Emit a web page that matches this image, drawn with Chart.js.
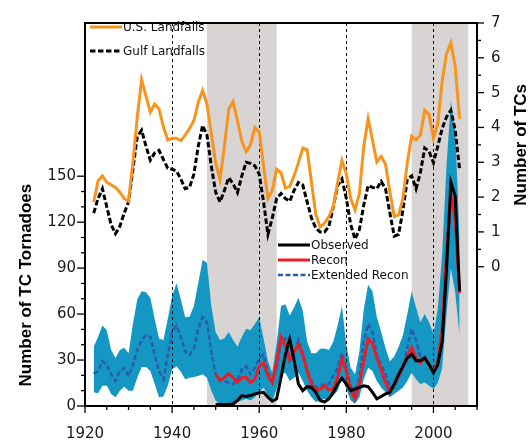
<!DOCTYPE html>
<html><head><meta charset="utf-8">
<script src="https://cdn.jsdelivr.net/npm/chart.js@4"></script>
<style>html,body{margin:0;padding:0;background:#fff}canvas{display:block}</style>
</head><body>
<canvas id="c" width="529" height="441"></canvas>
<script>
// ---- categories ----
const years = [1922,1923,1924,1925,1926,1927,1928,1929,1930,1931,1932,1933,1934,1935,1936,1937,1938,1939,1940,1941,
1942,1943,1944,1945,1946,1947,1948,1949,1950,1951,1952,1953,1954,1955,1956,1957,1958,1959,1960,1961,
1962,1963,1964,1965,1966,1967,1968,1969,1970,1971,1972,1973,1974,1975,1976,1977,1978,1979,1980,1981,
1982,1983,1984,1985,1986,1987,1988,1989,1990,1991,1992,1993,1994,1995,1996,1997,1998,1999,2000,2001,
2002,2003,2004,2005,2006];
const obsStartYear = 1950;

// ---- right axis series (Number of TCs) ----
const usLandfalls = [1.86,2.47,2.61,2.42,2.35,2.28,2.14,1.96,1.88,3.0,4.3,5.37,4.9,4.44,4.67,4.53,4.02,3.64,3.69,3.69,
3.62,3.78,3.97,4.2,4.72,5.06,4.67,3.83,2.99,2.5,3.46,4.53,4.74,4.2,3.6,3.31,3.5,4.0,3.88,2.89,
1.96,2.19,2.8,2.7,2.26,2.3,2.61,2.99,3.41,3.36,2.42,1.49,1.14,1.25,1.44,1.72,2.42,3.05,2.66,1.96,
1.63,2.1,3.46,4.25,3.64,3.01,3.17,2.94,2.14,1.44,1.49,1.96,2.99,3.75,3.64,3.78,4.49,4.37,3.69,4.11,
5.33,6.12,6.43,5.75,4.25];
const gulfLandfalls = [1.54,1.96,2.24,1.72,1.21,0.95,1.16,1.54,1.86,2.8,3.74,3.92,3.46,3.06,3.27,3.34,3.08,2.83,2.8,2.75,
2.52,2.24,2.28,2.66,3.46,4.06,3.78,2.89,2.14,1.86,2.19,2.56,2.38,2.13,2.61,3.0,2.97,2.9,2.66,1.86,
0.93,1.4,1.96,2.1,1.96,1.88,2.19,2.42,2.35,1.86,1.4,1.1,1.0,1.0,1.16,1.72,2.33,2.52,1.96,1.21,
0.79,1.07,1.77,2.33,2.28,2.24,2.45,2.24,1.54,0.88,0.93,1.63,2.52,2.61,2.24,2.7,3.41,3.31,2.99,3.46,
3.97,4.3,4.49,3.92,2.8];

// ---- left axis series (Number of TC Tornadoes) ----
const extendedRecon = [21.1,22.8,29.2,27.0,20.7,16.4,22.8,24.9,19.6,27.0,36.6,43.0,46.2,45.1,33.4,22.8,17.5,33.4,48.3,52.6,
45.1,35.5,33.4,37.7,50.4,57.9,54.7,35.5,20.7,16.4,16.4,15.3,14.3,17.5,23.9,26.0,20.7,24.9,31.3,33.4,
21.7,16.4,24.9,41.9,44.0,29.2,33.4,43.0,34.5,23.9,16.4,12.1,12.1,14.3,14.3,19.6,24.9,34.5,24.9,13.2,
7.9,18.5,41.9,53.6,48.3,33.4,27.0,20.7,12.1,12.1,18.5,24.9,37.7,50.4,43.0,32.3,31.3,27.0,23.9,29.2,
50,99,137,120,74];
const reconUpper = [38.7,45.1,52.6,49.4,36.6,31.3,36.6,38.1,34.5,53.6,69.6,74.9,74.3,70.6,56.8,44.0,43.0,56.8,71.7,80.2,
69.6,57.9,58.3,65.3,80.2,95.5,93.4,65.3,48.3,43.0,44.0,48.3,43.0,38.7,45.1,50.4,49.4,53.6,57.9,44.0,
29.2,21.7,40.9,65.3,66.4,59.0,64.3,70.6,62.1,41.9,34.5,34.5,37.3,37.5,36.6,41.9,52.6,65.3,39.8,24.9,
20.7,35.5,63.2,79.1,74.9,57.9,48.3,37.7,29.2,32.3,38.7,46.2,60.0,74.9,64.3,54.7,60.0,54.7,47.2,63.2,
99,157,199,180,110];
const reconLower = [8.9,8.3,13.2,13.2,7.9,5.7,10.0,12.6,10.0,10.0,18.5,25.5,25.5,22.8,14.3,5.7,6.2,13.2,23.9,26.0,
22.3,17.5,18.5,18.9,19.6,20.7,18.5,10.0,3.6,0.9,0.9,1.3,1.5,2.6,3.6,4.7,3.6,5.7,9.0,12.1,
6.8,3.6,11.1,20.7,21.7,16.4,18.5,21.7,16.4,10.0,5.7,2.6,3.6,4.7,3.6,6.8,10.0,18.5,11.1,3.6,
1.5,5.7,17.5,24.9,22.8,16.4,12.1,8.9,5.7,7.9,10.0,12.1,16.4,21.7,17.5,14.3,15.3,13.2,11.1,15,
25,60,90,74,46];
const recon = [20.7,16.8,18.5,21.1,18.5,15.3,18.5,18.9,15.3,17.5,
26.0,28.1,19.6,15.3,29.2,45.1,39.8,30.2,35.5,40.2,
33.4,22.8,14.3,10.0,11.1,13.2,10.5,11.1,18.5,30.9,
22.8,10.0,4.7,14.3,29.2,44.0,40.9,31.3,23.9,15.3,
8.9,14.3,19.6,26.0,32.3,38.1,31.3,28.1,31.7,27.0,
22.8,29.2,50.4,99,137.6,123,73.8];
const observed = [1.0,1.0,1.0,1.0,1.3,3.6,6.8,6.2,6.8,7.9,
8.5,8.9,5.7,3.2,4.7,18.5,33.4,43.6,30.0,14.3,
10.0,12.6,12.1,8.9,3.6,2.6,4.7,8.9,14.3,18.1,
14.3,10.0,11.1,12.1,13.2,12.6,8.9,4.7,6.2,7.9,
8.9,14.3,20.7,26.0,31.3,33.8,29.6,29.6,31.3,27.0,
21.7,27.0,41.9,88.7,146,137,74.9];

// ---- axes / annotations ----
const xTickLabels = [1920,1940,1960,1980,2000];
const leftTickLabels = [0,30,60,90,120,150];
const rightTickLabels = [0,1,2,3,4,5,6,7];
const shadedPeriods = [[1948,1964],[1995,2008]];
const dashedYears = [1940,1960,1980,2000];

const C_ORANGE = '#f7941d', C_RED = '#ec1c24', C_BAND = '#1597c4', C_BLUE = '#2a5caa', C_GRAY = '#d8d4d4';

const pts = (xs, ys, off) => ys.map((v,i)=>({x: xs[i+off], y: v}));
const obsOff = years.indexOf(obsStartYear);

const labelFont = {family: 'DejaVu Sans', size: 15};
const legendFont = '12px "DejaVu Sans"';

const decor = {
  id: 'decor',
  beforeDatasetsDraw(chart) {
    const {ctx, chartArea: a, scales: {x}} = chart;
    ctx.save();
    ctx.fillStyle = C_GRAY;
    shadedPeriods.forEach(([s,e]) => {
      const x0 = x.getPixelForValue(s), x1 = x.getPixelForValue(e);
      ctx.fillRect(x0, a.top, x1 - x0, a.bottom - a.top);
    });
    ctx.restore();
  },
  afterDatasetDraw(chart, args) {
    if (chart.data.datasets[args.index].tag !== 'bandUpper') return;
    const {ctx, chartArea: a, scales: {x}} = chart;
    ctx.save();
    ctx.strokeStyle = '#000'; ctx.lineWidth = 1; ctx.setLineDash([3,3]);
    dashedYears.forEach(yr => {
      const px = Math.round(x.getPixelForValue(yr)) + 0.5;
      ctx.beginPath(); ctx.moveTo(px, a.top); ctx.lineTo(px, a.bottom); ctx.stroke();
    });
    ctx.restore();
  },
  afterDraw(chart) {
    const {ctx, chartArea: a, scales: {x, y, y2}} = chart;
    ctx.save();
    // frame
    ctx.strokeStyle = '#000'; ctx.lineWidth = 2; ctx.setLineDash([]);
    ctx.strokeRect(a.left, a.top, a.right - a.left, a.bottom - a.top);
    ctx.lineWidth = 1.3;
    // x ticks
    for (let yr = 1920; yr <= 2010; yr += 5) {
      const px = x.getPixelForValue(yr), len = (yr % 20 === 0) ? 7 : 4;
      ctx.beginPath(); ctx.moveTo(px, a.bottom); ctx.lineTo(px, a.bottom + len); ctx.stroke();
    }
    // left ticks
    for (let v = 0; v <= 150; v += 10) {
      const py = y.getPixelForValue(v), len = (v % 30 === 0) ? 8 : 4;
      ctx.beginPath(); ctx.moveTo(a.left, py); ctx.lineTo(a.left - len, py); ctx.stroke();
    }
    // right ticks
    for (let v = 0; v <= 7; v += 0.5) {
      const py = y2.getPixelForValue(v), len = (v % 1 === 0) ? 7 : 4;
      ctx.beginPath(); ctx.moveTo(a.right, py); ctx.lineTo(a.right + len, py); ctx.stroke();
    }
    // axis titles
    ctx.fillStyle = '#000';
    ctx.font = 'bold 17px "Liberation Sans"';
    ctx.textAlign = 'center'; ctx.textBaseline = 'middle';
    ctx.save(); ctx.translate(26, (y.getPixelForValue(0) + y.getPixelForValue(150)) / 2 - 6); ctx.rotate(-Math.PI/2);
    ctx.fillText('Number of TC Tornadoes', 0, 0); ctx.restore();
    ctx.save(); ctx.translate(521, (y2.getPixelForValue(0) + y2.getPixelForValue(7)) / 2); ctx.rotate(-Math.PI/2);
    ctx.fillText('Number of TCs', 0, 0); ctx.restore();
    // legends
    const entry = (x0, yy, color, width, dash, text) => {
      ctx.save();
      ctx.strokeStyle = color; ctx.lineWidth = width; ctx.setLineDash(dash);
      ctx.beginPath(); ctx.moveTo(x0, yy); ctx.lineTo(x0 + 32, yy); ctx.stroke();
      ctx.restore();
      ctx.fillStyle = '#111'; ctx.font = legendFont; ctx.textAlign = 'left'; ctx.textBaseline = 'middle';
      ctx.fillText(text, x0 + 33, yy + 0.5);
    };
    entry(90, 27, C_ORANGE, 3, [], 'U.S. Landfalls');
    entry(90, 51, '#000', 3, [5.5,2.5], 'Gulf Landfalls');
    entry(278, 245, '#000', 3, [], 'Observed');
    entry(278, 260, C_RED, 3, [], 'Recon');
    entry(278, 275, C_BLUE, 2.5, [5,2.5], 'Extended Recon');
    ctx.restore();
  }
};

new Chart(document.getElementById('c'), {
  type: 'line',
  data: {
    datasets: [
      {tag:'us', data: pts(years, usLandfalls, 0), yAxisID:'y2', borderColor:C_ORANGE, borderWidth:3, pointRadius:0, fill:false, order:1, tension:0},
      {tag:'gulf', data: pts(years, gulfLandfalls, 0), yAxisID:'y2', borderColor:'#000', borderWidth:3, borderDash:[5.5,2.5], pointRadius:0, fill:false, order:2},
      {tag:'obs', data: pts(years, observed, obsOff), yAxisID:'y', borderColor:'#000', borderWidth:3, pointRadius:0, fill:false, order:3},
      {tag:'recon', data: pts(years, recon, obsOff), yAxisID:'y', borderColor:C_RED, borderWidth:3, pointRadius:0, fill:false, order:4},
      {tag:'ext', data: pts(years, extendedRecon, 0), yAxisID:'y', borderColor:C_BLUE, borderWidth:2.5, borderDash:[5,2.5], pointRadius:0, fill:false, order:5},
      {tag:'bandUpper', data: pts(years, reconUpper, 0), yAxisID:'y', borderWidth:0, borderColor:'rgba(0,0,0,0)', backgroundColor:C_BAND, pointRadius:0, fill:{target: 6}, order:6},
      {tag:'bandLower', data: pts(years, reconLower, 0), yAxisID:'y', borderWidth:0, borderColor:'rgba(0,0,0,0)', pointRadius:0, fill:false, order:7}
    ]
  },
  options: {
    responsive: false,
    animation: false,
    devicePixelRatio: 1,
    layout: {padding: {top: 14, left: 0, right: 0, bottom: 0}},
    plugins: {legend: {display:false}, tooltip: {enabled:false}, filler: {drawTime: 'beforeDatasetDraw'}},
    scales: {
      x: {
        type: 'linear', min: 1920, max: 2010,
        grid: {display:false, drawTicks:false}, border: {display:false},
        afterBuildTicks: s => { s.ticks = xTickLabels.map(v => ({value: v})); },
        afterFit: s => { s.height = 35; },
        ticks: {font: labelFont, color:'#1a1a1a', padding: 19, maxRotation: 0, autoSkip: false, callback: v => String(v)}
      },
      y: {
        type: 'linear', position: 'left', min: 0, max: 250,
        grid: {display:false, drawTicks:false}, border: {display:false},
        afterBuildTicks: s => { s.ticks = leftTickLabels.map(v => ({value: v})); },
        afterFit: s => { s.width = 85; },
        ticks: {font: labelFont, color:'#1a1a1a', padding: 9, autoSkip:false, callback: v => String(v)}
      },
      y2: {
        type: 'linear', position: 'right', min: -4, max: 7,
        grid: {display:false, drawTicks:false}, border: {display:false},
        afterBuildTicks: s => { s.ticks = rightTickLabels.map(v => ({value: v})); },
        afterFit: s => { s.width = 52; },
        ticks: {font: labelFont, color:'#1a1a1a', padding: 14, autoSkip:false, callback: v => String(v)}
      }
    }
  },
  plugins: [decor]
});
</script>
</body></html>
